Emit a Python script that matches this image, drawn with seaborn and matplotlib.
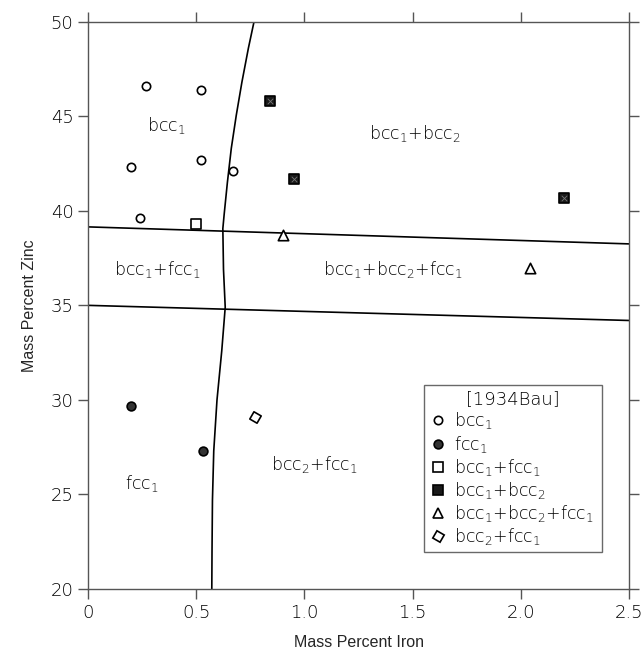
import numpy as np
import seaborn as sns
import pandas as pd
import matplotlib.pyplot as plt
from matplotlib.lines import Line2D

# data
bcc1_fe = [0.27, 0.52, 0.20, 0.52, 0.67, 0.24]
bcc1_zn = [46.6, 46.4, 42.3, 42.7, 42.1, 39.6]
fcc1_fe = [0.20, 0.53]
fcc1_zn = [29.7, 27.3]
bcc1_fcc1_fe = [0.50]
bcc1_fcc1_zn = [39.3]
bcc1_bcc2_fe = [0.84, 0.95, 2.20]
bcc1_bcc2_zn = [45.8, 41.7, 40.7]
three_fe = [0.90, 2.04]
three_zn = [38.7, 37.0]
bcc2_fcc1_fe = [0.77]
bcc2_fcc1_zn = [29.1]

upper_fe = [0.0, 2.5]
upper_zn = [39.15, 38.25]
lower_fe = [0.0, 2.5]
lower_zn = [35.0, 34.2]
curve_fe = [0.767, 0.741, 0.711, 0.685, 0.662, 0.644, 0.629, 0.623, 0.626, 0.634,
            0.618, 0.596, 0.581, 0.575, 0.573, 0.572]
curve_zn = [50.0, 48.6, 46.8, 45.05, 43.3, 41.5, 39.8, 39.06, 36.9, 34.9,
            32.6, 30.0, 27.3, 24.7, 22.0, 20.0]

sns.set_style("ticks")
plt.rcParams['font.family'] = ['DejaVu Sans']
plt.rcParams['mathtext.default'] = 'regular'

fig = plt.figure(figsize=(6.44, 6.54), dpi=100)
ax = fig.add_axes([0.1366, 0.0994, 0.977 - 0.1366, 0.9668 - 0.0994])

for fe, zn in [(upper_fe, upper_zn), (lower_fe, lower_zn), (curve_fe, curve_zn)]:
    d = pd.DataFrame({'fe': fe, 'zn': zn})
    sns.lineplot(data=d, x='fe', y='zn', sort=False, estimator=None,
                 color='black', lw=1.2, ax=ax)

# point groups
pts = [
    (bcc1_fe, bcc1_zn, 'o', 'white', 6.0),
    (fcc1_fe, fcc1_zn, 'o', '#333333', 6.3),
    (bcc1_fcc1_fe, bcc1_fcc1_zn, 's', 'white', 6.8),
    (bcc1_bcc2_fe, bcc1_bcc2_zn, 's', '#1a1a1a', 7.0),
    (three_fe, three_zn, '^', 'white', 7.5),
    (bcc2_fcc1_fe, bcc2_fcc1_zn, (4, 0, 15), 'white', 8.5),
]
for fe, zn, m, fc, s in pts:
    d = pd.DataFrame({'fe': fe, 'zn': zn})
    sns.scatterplot(data=d, x='fe', y='zn', marker=m, s=s**2, facecolor=fc,
                    edgecolor='black', linewidth=1.2, zorder=5, ax=ax)
d = pd.DataFrame({'fe': bcc1_bcc2_fe, 'zn': bcc1_bcc2_zn})
sns.scatterplot(data=d, x='fe', y='zn', marker='x', s=16, color='#777777',
                linewidth=0.6, zorder=6, ax=ax)

# phase field labels
lab_kw = dict(ha='center', va='center', fontsize=12.5, color='black', fontweight='light')
ax.text(0.36, 44.5, r'bcc$_1$', **lab_kw)
ax.text(1.51, 44.1, r'bcc$_1$+bcc$_2$', **lab_kw)
ax.text(0.32, 36.9, r'bcc$_1$+fcc$_1$', **lab_kw)
ax.text(1.41, 36.9, r'bcc$_1$+bcc$_2$+fcc$_1$', **lab_kw)
ax.text(0.25, 25.6, r'fcc$_1$', **lab_kw)
ax.text(1.045, 26.6, r'bcc$_2$+fcc$_1$', **lab_kw)

ax.set_xlim(0, 2.5)
ax.set_ylim(20, 50)
ax.set_xticks([0, 0.5, 1.0, 1.5, 2.0, 2.5])
ax.set_xticklabels(['0', '0.5', '1.0', '1.5', '2.0', '2.5'])
ax.set_yticks([20, 25, 30, 35, 40, 45, 50])
ax.tick_params(direction='out', length=7, width=1.0, color='#555555',
               labelsize=13, labelcolor='black',
               top=True, right=True, labeltop=False, labelright=False)
for lab in ax.get_xticklabels() + ax.get_yticklabels():
    lab.set_fontweight('light')
for sp in ax.spines.values():
    sp.set_visible(True)
    sp.set_color('#555555')
    sp.set_linewidth(1.0)

ax.set_xlabel('Mass Percent Iron', fontsize=11.5, family=['Liberation Sans'], labelpad=10)
ax.set_ylabel('Mass Percent Zinc', fontsize=11.5, family=['Liberation Sans'], labelpad=10)

names = [r'bcc$_1$', r'fcc$_1$', r'bcc$_1$+fcc$_1$', r'bcc$_1$+bcc$_2$',
         r'bcc$_1$+bcc$_2$+fcc$_1$', r'bcc$_2$+fcc$_1$']
handles = [Line2D([], [], ls='none', marker=m, markersize=s, markerfacecolor=fc,
                  markeredgecolor='black', markeredgewidth=1.2)
           for (_, _, m, fc, s) in pts]
leg = ax.legend(handles, names, title='[1934Bau]', loc='lower left',
                bbox_to_anchor=(0.621, 0.065, 0.329, 0.298), mode='expand',
                prop={'size': 12.5, 'weight': 'light'}, title_fontproperties={'size': 13, 'weight': 'light'},
                frameon=True, fancybox=False,
                handletextpad=0.4, handlelength=1.0, labelspacing=0.12,
                borderaxespad=0, borderpad=0.3)
leg.get_frame().set_edgecolor('#444444')
leg.get_frame().set_linewidth(1.0)
for t in leg.get_texts():
    t.set_color('black')
leg.get_title().set_color('black')

fig.savefig('out.png', dpi=100)
